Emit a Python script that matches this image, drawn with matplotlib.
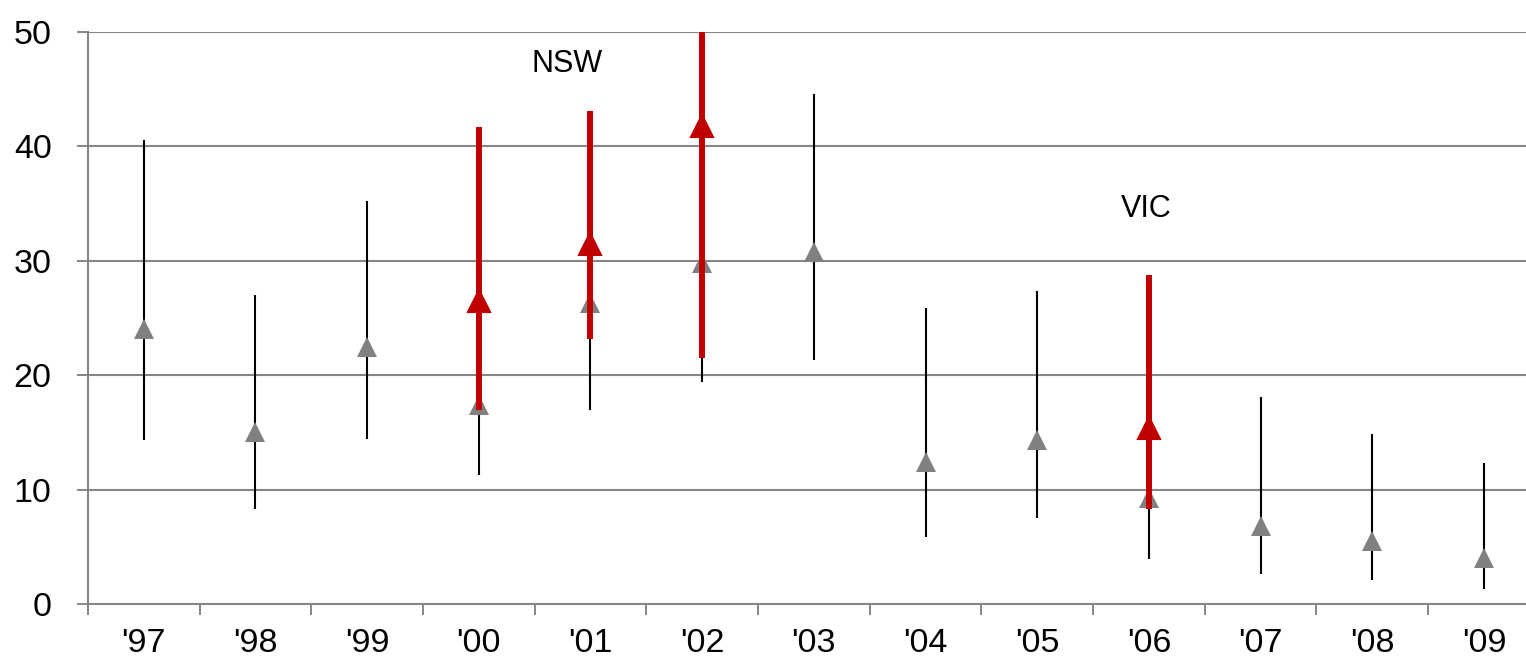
import matplotlib
matplotlib.use("Agg")
import matplotlib.pyplot as plt
import numpy as np

plt.rcParams['font.family'] = ['Liberation Sans', 'DejaVu Sans']

# Data
years = ["'97", "'98", "'99", "'00", "'01", "'02", "'03", "'04", "'05", "'06", "'07", "'08", "'09"]
aus_value = [24.0, 15.0, 22.5, 17.4, 26.3, 29.8, 30.8, 12.4, 14.3, 9.3, 6.8, 5.5, 4.0]
aus_low = [14.3, 8.3, 14.4, 11.3, 17.0, 19.4, 21.3, 5.9, 7.5, 3.9, 2.6, 2.1, 1.3]
aus_high = [40.6, 27.0, 35.2, 25.0, 37.0, 42.0, 44.6, 25.9, 27.4, 16.0, 18.1, 14.9, 12.3]

state_years = ["'00", "'01", "'02", "'06"]
state_value = [26.5, 31.5, 41.8, 15.4]
state_low = [17.0, 23.2, 21.5, 8.3]
state_high = [41.7, 43.1, 52.0, 28.8]

labels = ["NSW", "VIC"]
label_pos = [(3.79, 47.2), (8.98, 34.55)]

yticks = [0, 10, 20, 30, 40, 50]

grid_gray = '#868686'
red = '#C00000'
marker_gray = '#808080'

fig = plt.figure(figsize=(15.26, 6.64), dpi=100)
W, H = 1526, 664
ax = fig.add_axes([87.85 / W, (H - 604) / H, 1452 / W, 572 / H])

x = np.arange(len(years))
idx = [years.index(s) for s in state_years]
xs = x[idx]

av = np.array(aus_value)
ax.errorbar(x, av, yerr=[av - np.array(aus_low), np.array(aus_high) - av],
            fmt='none', ecolor='black', elinewidth=1.5, capsize=0, zorder=3)
ax.plot(x, av, linestyle='none', marker='^', markersize=14.8,
        color=marker_gray, markeredgewidth=0, zorder=4)

sv = np.array(state_value)
ax.errorbar(xs, sv, yerr=[sv - np.array(state_low), np.array(state_high) - sv],
            fmt='none', ecolor=red, elinewidth=4.3, capsize=0, zorder=5)
ax.plot(xs, sv, linestyle='none', marker='^', markersize=15.5,
        color=red, markeredgecolor=red, markeredgewidth=1.5, zorder=6)

for t, (px, py) in zip(labels, label_pos):
    ax.text(px, py, t, fontsize=22, ha='center', va='center', color='black', zorder=7)

ax.set_xlim(-0.5, len(years) - 0.5)
ax.set_ylim(0, 50)
ax.set_yticks(yticks)
ax.set_yticklabels([str(v) for v in yticks])
ax.set_xticks(x)
ax.set_xticklabels(years)
ax.set_xticks(np.arange(-0.5, len(years), 1.0), minor=True)

ax.tick_params(axis='x', which='major', length=0, pad=17, labelsize=24.5)
ax.tick_params(axis='x', which='minor', length=8, width=1.4, color=grid_gray, direction='out')
ax.tick_params(axis='y', which='major', length=8, width=1.4, color=grid_gray,
               direction='out', pad=18, labelsize=24.5)

ax.yaxis.grid(True, color=grid_gray, linewidth=1.5)
ax.set_axisbelow(True)
for s in ['top', 'right']:
    ax.spines[s].set_visible(False)
for s in ['left', 'bottom']:
    ax.spines[s].set_color(grid_gray)
    ax.spines[s].set_linewidth(1.5)

fig.savefig('out.png', dpi=100)
